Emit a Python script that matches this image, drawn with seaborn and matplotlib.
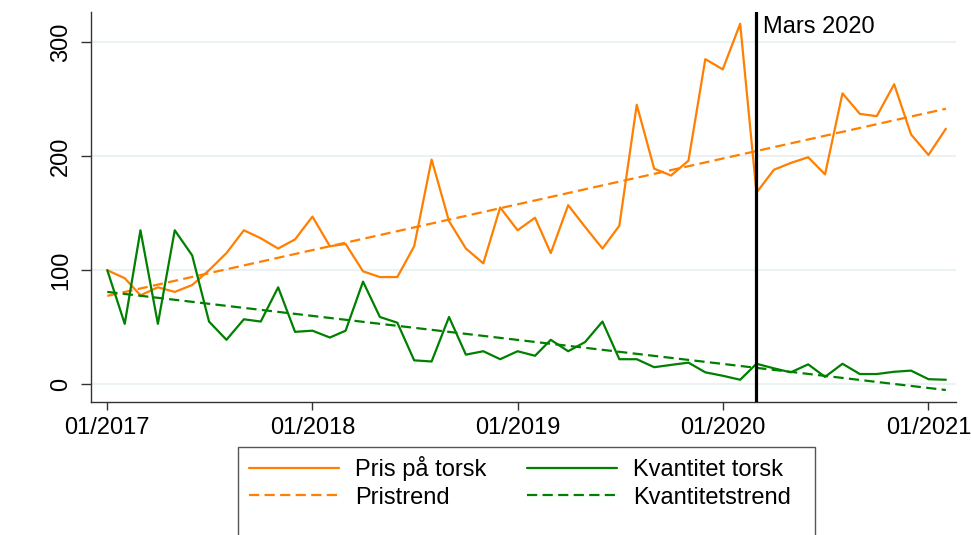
import pandas as pd
import matplotlib
matplotlib.use("Agg")
import matplotlib.pyplot as plt
import matplotlib.dates as mdates
from matplotlib.patches import Rectangle
import seaborn as sns

# Månedlige data, 01/2017 - 02/2021
maaneder = pd.date_range("2017-01-01", "2021-02-01", freq="MS")

pris = [100, 93, 78, 85, 81, 87, 100, 115, 135, 128, 119, 127,
        147, 121, 123, 99, 94, 94, 121, 197, 143, 119, 106, 155,
        135, 146, 115, 157, 138, 119, 139, 245, 189, 183, 196, 285,
        276, 316, 168, 188, 194, 199, 184, 255, 237, 235, 263, 219,
        201, 224]

kvantitet = [100, 53, 135, 53, 135, 113, 55, 39, 57, 55, 85, 46,
             47, 41, 47, 90, 59, 54, 21, 20, 59, 26, 29, 22,
             29, 25, 39, 29, 37, 55, 22, 22, 15, 17, 19, 10.5,
             7.5, 4, 18, 14, 10.5, 17.5, 6.5, 18, 9, 9, 11, 12,
             4.5, 4]

# Trendlinjer (start- og sluttverdi)
trend_datoer = [maaneder[0], maaneder[-1]]
pristrend = [77.5, 241.5]
kvantitetstrend = [81, -5]

oransje = "#ff7f00"
gronn = "#008000"
strek = (0, (4.6, 2.4))
fs = 17

sns.set_style("white")
plt.rcParams["font.family"] = ["Liberation Sans", "DejaVu Sans"]
plt.rcParams["text.color"] = "black"
plt.rcParams["xtick.color"] = "black"
plt.rcParams["ytick.color"] = "black"

fig = plt.figure(figsize=(9.71, 5.35), dpi=100)
ax = fig.add_axes([91 / 971, 1 - 402 / 535, (956 - 91) / 971, 390 / 535])

sns.lineplot(x=maaneder, y=pris, color=oransje, linewidth=1.6,
             label="Pris på torsk", ax=ax, legend=False)
sns.lineplot(x=trend_datoer, y=pristrend, color=oransje, linewidth=1.6,
             linestyle=strek, label="Pristrend", ax=ax, legend=False)
sns.lineplot(x=maaneder, y=kvantitet, color=gronn, linewidth=1.6,
             label="Kvantitet torsk", ax=ax, legend=False)
sns.lineplot(x=trend_datoer, y=kvantitetstrend, color=gronn, linewidth=1.6,
             linestyle=strek, label="Kvantitetstrend", ax=ax, legend=False)

mars = pd.Timestamp("2020-03-01")
ax.axvline(mars, color="black", linewidth=2.3, zorder=5)
ax.annotate("Mars 2020", xy=(mars, 1), xycoords=("data", "axes fraction"),
            xytext=(5, -3), textcoords="offset points", ha="left", va="top",
            fontsize=fs, color="black")

ax.set_xlim(pd.Timestamp("2016-12-03"), pd.Timestamp("2021-02-19"))
ax.set_ylim(-15.5, 326.3)
ax.set_yticks([0, 100, 200, 300])
ax.set_xticks(pd.to_datetime(["2017-01-01", "2018-01-01", "2019-01-01",
                              "2020-01-01", "2021-01-01"]))
ax.xaxis.set_major_formatter(mdates.DateFormatter("%m/%Y"))
ax.grid(axis="y", color="#eaf2f3", linewidth=1.5)
ax.grid(axis="x", visible=False)
ax.set_xlabel("")
ax.set_ylabel("")

for s in ["top", "right"]:
    ax.spines[s].set_visible(False)
for s in ["left", "bottom"]:
    ax.spines[s].set_color("#333333")
    ax.spines[s].set_linewidth(1.0)

ax.tick_params(axis="x", length=6, width=1, color="#333333", pad=5,
               labelsize=fs, labelcolor="black", bottom=True)
ax.tick_params(axis="y", length=7.5, width=1, color="#333333", pad=6,
               labelsize=fs, labelcolor="black", left=True)
for lbl in ax.get_yticklabels():
    lbl.set_rotation(90)
    lbl.set_va("center")

# Forklaring
linjer = ax.get_lines()[:4]
navn = ["Pris på torsk", "Pristrend", "Kvantitet torsk", "Kvantitetstrend"]
fig.legend(linjer, navn, ncol=2, loc="upper left",
           bbox_to_anchor=(249 / 971, 1 - 456 / 535), frameon=False,
           fontsize=fs, handlelength=3.8, handletextpad=0.68,
           columnspacing=1.75, labelspacing=0.24, borderpad=0, borderaxespad=0,
           labelcolor="black")
fig.patches.append(Rectangle((238 / 971, -0.02), (815 - 238) / 971,
                             0.02 + 1 - 447 / 535, transform=fig.transFigure,
                             fill=False, edgecolor="#555555", linewidth=1.0))

fig.savefig("out.png", dpi=100)
